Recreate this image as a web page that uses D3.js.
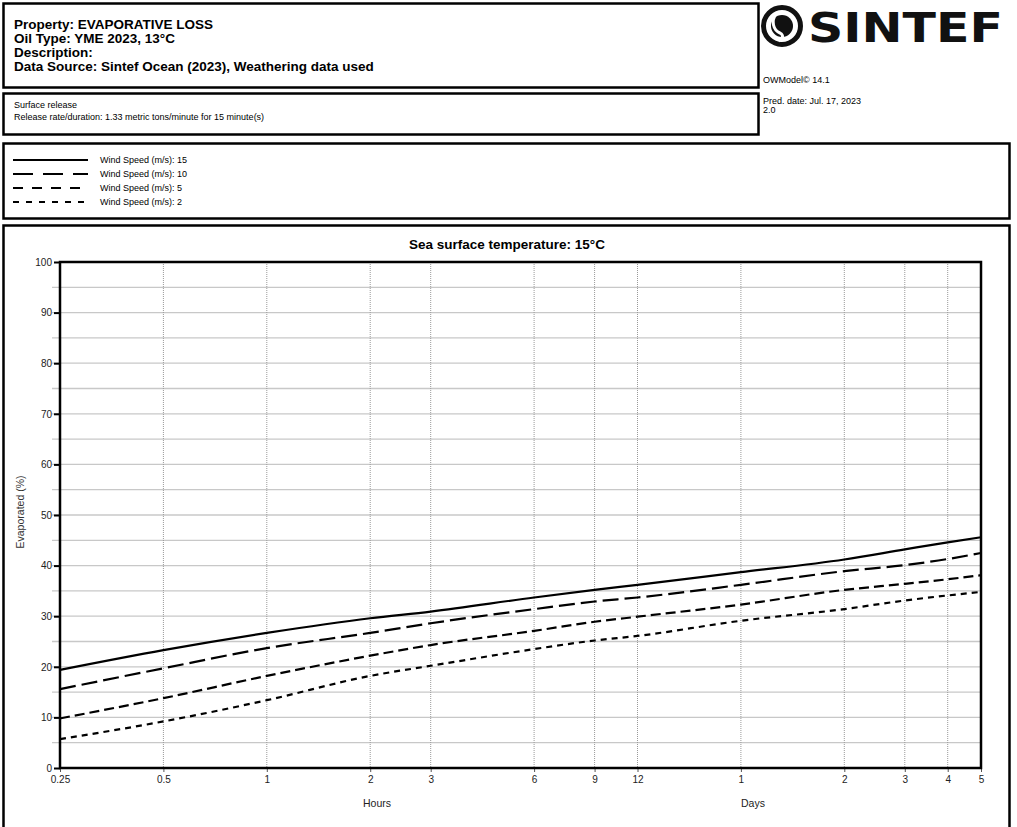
<!DOCTYPE html>
<html><head><meta charset="utf-8">
<script src="https://cdn.jsdelivr.net/npm/d3@7"></script>
<style>body{margin:0;background:#fff}svg{display:block;font-family:"Liberation Sans",Arial,sans-serif}</style>
</head><body><svg id="c" width="1017" height="827"></svg>
<script>
// ---- data ----
const timesHours = [0.25, 0.5, 1, 2, 3, 6, 9, 12, 24, 48, 72, 96, 120];
const tickHours = [0.25, 0.5, 1, 2, 3, 6, 9, 12, 24, 48, 72, 96, 120];
const tickLabels = ["0.25", "0.5", "1", "2", "3", "6", "9", "12", "1", "2", "3", "4", "5"];
const wind15 = [19.4, 23.3, 26.7, 29.6, 30.9, 33.7, 35.2, 36.2, 38.7, 41.2, 43.2, 44.6, 45.6];
const wind10 = [15.6, 19.7, 23.7, 26.7, 28.6, 31.4, 32.9, 33.7, 36.2, 38.9, 40.1, 41.3, 42.5];
const wind5  = [9.8, 13.8, 18.2, 22.2, 24.3, 27.1, 28.9, 29.9, 32.3, 35.2, 36.4, 37.3, 38.1];
const wind2  = [5.7, 9.2, 13.4, 18.2, 20.2, 23.5, 25.2, 26.1, 29.1, 31.4, 33.1, 34.1, 34.8];
const seriesNames = ["Wind Speed (m/s): 15", "Wind Speed (m/s): 10", "Wind Speed (m/s): 5", "Wind Speed (m/s): 2"];
const yTicks = [0, 10, 20, 30, 40, 50, 60, 70, 80, 90, 100];
const yGrid = [5, 10, 15, 20, 25, 30, 35, 40, 45, 50, 55, 60, 65, 70, 75, 80, 85, 90, 95];
const headerLines = ["Property: EVAPORATIVE LOSS", "Oil Type: YME 2023, 13°C", "Description:", "Data Source: Sintef Ocean (2023), Weathering data used"];
const releaseLines = ["Surface release", "Release rate/duration: 1.33 metric tons/minute for 15 minute(s)"];
const chartTitle = "Sea surface temperature: 15°C";

const series = [
  {name: seriesNames[0], values: wind15, dash: null, legDash: null},
  {name: seriesNames[1], values: wind10, dash: "16,6", legDash: "20,10"},
  {name: seriesNames[2], values: wind5, dash: "10,5", legDash: "10,9"},
  {name: seriesNames[3], values: wind2, dash: "6,5", legDash: "6,7"}
];

const svg = d3.select("#c");

// ---- frames ----
function box(x, y, w, h) {
  svg.append("rect").attr("x", x).attr("y", y).attr("width", w).attr("height", h)
    .attr("fill", "none").attr("stroke", "#000").attr("stroke-width", 2.5);
}
box(3.5, 3.5, 755, 84);
box(3.5, 93.5, 755, 41);
box(3.5, 143.5, 1006, 75);
box(3.5, 225.5, 1006, 610);

// header texts
svg.append("g").selectAll("text").data(headerLines).join("text")
  .attr("x", 14).attr("y", (d, i) => 28.5 + i * 14)
  .attr("font-size", 13.5).attr("font-weight", "bold").text(d => d);
svg.append("g").selectAll("text").data(releaseLines).join("text")
  .attr("x", 14).attr("y", (d, i) => 108 + i * 12)
  .attr("font-size", 9).text(d => d);

// logo
const lg = svg.append("g");
lg.append("circle").attr("cx", 782).attr("cy", 26).attr("r", 18.5).attr("fill", "none").attr("stroke", "#111").attr("stroke-width", 5);
lg.append("circle").attr("cx", 782).attr("cy", 26).attr("r", 11).attr("fill", "#111");
lg.append("path").attr("d", "M776,14 C771,21 773,30 780,33 C784,35 783,39 779,41").attr("fill", "none").attr("stroke", "#fff").attr("stroke-width", 3);
lg.append("text").attr("x", 808).attr("y", 42).attr("font-size", 41).attr("font-weight", "900")
  .attr("font-family", "'DejaVu Sans', 'Liberation Sans', sans-serif")
  .attr("textLength", 195).attr("lengthAdjust", "spacingAndGlyphs").attr("fill", "#111").text("SINTEF");
svg.append("text").attr("x", 763).attr("y", 83).attr("font-size", 9).text("OWModel© 14.1");
svg.append("text").attr("x", 763).attr("y", 104).attr("font-size", 9).text("Pred. date: Jul. 17, 2023");
svg.append("text").attr("x", 763).attr("y", 113).attr("font-size", 9).text("2.0");

// legend
const leg = svg.append("g");
series.forEach((s, i) => {
  const y = 160 + i * 14;
  leg.append("line").attr("x1", 13).attr("x2", 88).attr("y1", y).attr("y2", y)
    .attr("stroke", "#000").attr("stroke-width", 2).attr("stroke-dasharray", s.legDash);
  leg.append("text").attr("x", 100).attr("y", y + 3).attr("font-size", 9).text(s.name);
});

// ---- plot ----
const L = 60, R = 981, T = 262, B = 768;
const x = d3.scaleLog().domain([0.25, 120]).range([L, R]);
const y = d3.scaleLinear().domain([0, 100]).range([B, T]);

svg.append("text").attr("x", 507).attr("y", 249).attr("text-anchor", "middle")
  .attr("font-size", 13.5).attr("font-weight", "bold").text(chartTitle);

// horizontal grid
svg.append("g").selectAll("line").data(yGrid).join("line")
  .attr("x1", L - 8).attr("x2", R).attr("y1", d => y(d)).attr("y2", d => y(d))
  .attr("stroke", "#c8c8c8").attr("stroke-width", 1.3);
// vertical grid
svg.append("g").selectAll("line").data(tickHours.slice(1, -1)).join("line")
  .attr("x1", d => x(d)).attr("x2", d => x(d)).attr("y1", T).attr("y2", B)
  .attr("stroke", "#999").attr("stroke-width", 1).attr("stroke-dasharray", "1,1");

// y axis
const yAxis = d3.axisLeft(y).tickValues(yTicks).tickSize(6).tickPadding(2).tickFormat(d3.format("d"));
const ya = svg.append("g").attr("transform", `translate(${L},0)`).call(yAxis);
ya.select(".domain").remove();
ya.selectAll(".tick line").attr("stroke", "#000").attr("stroke-width", 2);
ya.selectAll(".tick text").attr("font-size", 10).attr("font-family", "Liberation Sans, Arial, sans-serif").attr("fill", "#222");

// x axis
const xAxis = d3.axisBottom(x).tickValues(tickHours).tickSize(4).tickPadding(4)
  .tickFormat((d, i) => tickLabels[i]);
const xa = svg.append("g").attr("transform", `translate(0,${B})`).call(xAxis);
xa.select(".domain").remove();
xa.selectAll(".tick line").attr("stroke", "#555").attr("stroke-width", 1);
xa.selectAll(".tick text").attr("font-size", 10).attr("font-family", "Liberation Sans, Arial, sans-serif").attr("fill", "#222");

// plot frame
svg.append("rect").attr("x", L).attr("y", T).attr("width", R - L).attr("height", B - T)
  .attr("fill", "none").attr("stroke", "#000").attr("stroke-width", 2.5);

// lines
const line = d3.line().x((d, i) => x(timesHours[i])).y(d => y(d)).curve(d3.curveMonotoneX);
svg.append("g").selectAll("path").data(series).join("path")
  .attr("d", d => line(d.values)).attr("fill", "none").attr("stroke", "#000")
  .attr("stroke-width", 2.2).attr("stroke-dasharray", d => d.dash);

// axis labels
svg.append("text").attr("x", 377).attr("y", 807).attr("text-anchor", "middle").attr("font-size", 10.5).attr("fill", "#222").text("Hours");
svg.append("text").attr("x", 753).attr("y", 807).attr("text-anchor", "middle").attr("font-size", 10.5).attr("fill", "#222").text("Days");
svg.append("text").attr("transform", "translate(24,512) rotate(-90)").attr("text-anchor", "middle")
  .attr("font-size", 10.5).attr("fill", "#333").text("Evaporated (%)");
</script></body></html>
